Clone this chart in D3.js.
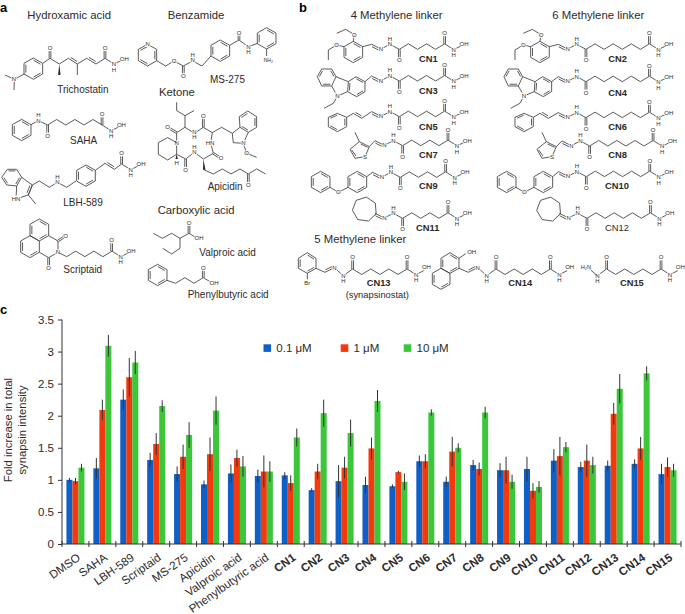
<!DOCTYPE html>
<html><head><meta charset="utf-8">
<script src="https://cdn.jsdelivr.net/npm/d3@7"></script>
<style>html,body{margin:0;padding:0;background:#fff}svg{display:block}text{font-family:"Liberation Sans",Arial,sans-serif;fill:#2b2b2b}</style>
</head><body><svg id="c" width="685" height="614"></svg>
<script>
const categories=["DMSO","SAHA","LBH-589","Scriptaid","MS-275","Apicidin","Valproic acid","Phenylbutyric acid","CN1","CN2","CN3","CN4","CN5","CN6","CN7","CN8","CN9","CN10","CN11","CN12","CN13","CN14","CN15"];
const seriesNames=["0.1 μM","1 μM","10 μM"];
const seriesColors=["#0f5fc6","#f23a0c","#3cc63a"];
const v01=[1.0,1.18,2.25,1.31,1.09,.93,1.10,1.06,1.07,.84,.98,.92,.90,1.29,.97,1.23,1.15,1.17,1.30,1.20,1.22,1.25,1.09];
const v1=[.98,2.09,2.60,1.56,1.36,1.40,1.34,1.13,.95,1.13,1.19,1.49,1.12,1.29,1.44,1.17,1.15,.83,1.37,1.30,2.03,1.49,1.20];
const v10=[1.19,3.09,2.83,2.15,1.70,2.08,1.21,1.13,1.66,2.04,1.73,2.23,.97,2.05,1.50,2.05,.97,.89,1.51,1.23,2.42,2.66,1.15];
const e01=[.03,.16,.16,.11,.12,.06,.14,.10,.05,.03,.25,.13,.03,.09,.08,.08,.11,.19,.18,.08,.08,.07,.16];
const e1=[.05,.16,.30,.17,.19,.26,.13,.25,.12,.12,.17,.17,.02,.11,.23,.10,.21,.12,.30,.25,.17,.18,.15];
const e10=[.06,.17,.18,.09,.20,.22,.16,.16,.14,.21,.21,.17,.13,.05,.07,.09,.11,.09,.08,.13,.23,.11,.10];
const yTicks=[0,.5,1,1.5,2,2.5,3,3.5];
const yLabelLines=["Fold increase in total","synapsin intensity"];
const svg=d3.select("#c");
const vals=[v01,v1,v10],errs=[e01,e1,e10];
const x=d3.scaleBand().domain(categories).range([62,681]).paddingInner(.33).paddingOuter(.165);
const sub=d3.scaleBand().domain([0,1,2]).range([0,x.bandwidth()]);
const y=d3.scaleLinear().domain([0,3.5]).range([544,319.5]);
const chart=svg.append("g");
vals.forEach((arr,s)=>{
  chart.append("g").selectAll("rect").data(arr).join("rect")
   .attr("x",(d,i)=>x(categories[i])+sub(s)).attr("width",sub.bandwidth())
   .attr("y",d=>y(d)).attr("height",d=>y(0)-y(d)).attr("fill",seriesColors[s]);
  chart.append("g").selectAll("line").data(arr).join("line")
   .attr("x1",(d,i)=>x(categories[i])+sub(s)+sub.bandwidth()/2).attr("x2",(d,i)=>x(categories[i])+sub(s)+sub.bandwidth()/2)
   .attr("y1",(d,i)=>y(d-errs[s][i])).attr("y2",(d,i)=>y(d+errs[s][i]))
   .attr("stroke","#333").attr("stroke-width",1);
});
const ya=chart.append("g").attr("transform","translate(62,0)").call(d3.axisLeft(y).tickValues(yTicks).tickSize(4).tickPadding(4).tickFormat(d=>String(d)));
ya.selectAll("text").attr("font-size",11.5);
ya.selectAll("path,line").attr("stroke","#333");
ya.select(".domain").attr("d","M-0,319.5V544");
const xa=chart.append("g").attr("transform","translate(0,544)").call(d3.axisBottom(x).tickSize(0).tickPadding(9));
xa.select(".domain").attr("d","M62,0H681").attr("stroke","#333");
xa.selectAll("text").attr("font-size",11.6).attr("text-anchor","end")
  .attr("font-weight",d=>d.startsWith("CN")?"bold":"normal");
xa.selectAll(".tick text").each(function(){const t=d3.select(this);const py=t.attr("y");t.attr("transform",`rotate(-35 0 ${py})`).attr("dx",1).attr("dy",8.5);});
const edges=d3.range(categories.length+1);
xa.append("g").selectAll("line").data(edges).join("line")
  .attr("x1",i=>62+i*x.step()).attr("x2",i=>62+i*x.step()).attr("y1",-3).attr("y2",3).attr("stroke","#333");
yLabelLines.forEach((t,i)=>svg.append("text").attr("transform",`translate(${12+i*13.5},430) rotate(-90)`).attr("text-anchor","middle").attr("font-size",11.3).text(t));
// legend
const legendX=[263.5,340.7,403.7];
seriesNames.forEach((n,i)=>{
 svg.append("rect").attr("x",legendX[i]).attr("y",344.3).attr("width",7.6).attr("height",7.6).attr("fill",seriesColors[i]);
 svg.append("text").attr("x",legendX[i]+12.8).attr("y",352).attr("font-size",11.5).text(n);
});
// panel letters
[["a",0,12],["b",299,12],["c",0,314]].forEach(([t,a,b])=>svg.append("text").attr("x",a).attr("y",b).attr("font-size",13).attr("font-weight","bold").style("fill","#000").text(t));

// ---- chemical structure drawing helpers (skeletal diagrams, 3x units) ----
function Draw(g){
 const sw=2.5,col="#3a3a3a";
 const line=d3.line();
 const api={
  p(...pts){g.append("path").attr("d",line(pts)).attr("fill","none").attr("stroke",col).attr("stroke-width",sw).attr("stroke-linejoin","round");return api;},
  d(a,b,cx,cy){
   api.p(a,b);
   const dx=b[0]-a[0],dy=b[1]-a[1],L=Math.hypot(dx,dy);let nx=-dy/L,ny=dx/L;
   const mx=(a[0]+b[0])/2,my=(a[1]+b[1])/2;
   if(nx*(cx-mx)+ny*(cy-my)<0){nx=-nx;ny=-ny;}
   const o=6,s=.14;
   api.p([a[0]+dx*s+nx*o,a[1]+dy*s+ny*o],[b[0]-dx*s+nx*o,b[1]-dy*s+ny*o]);return api;},
  o(c,o){
   const dx=o[0]-c[0],dy=o[1]-c[1],L=Math.hypot(dx,dy),nx=-dy/L*2.6,ny=dx/L*2.6,e=[c[0]+dx*.72,c[1]+dy*.72];
   api.p([c[0]+nx,c[1]+ny],[e[0]+nx,e[1]+ny]);api.p([c[0]-nx,c[1]-ny],[e[0]-nx,e[1]-ny]);
   api.a(o[0],o[1],"O");return api;},
  w(a,b){const dx=b[0]-a[0],dy=b[1]-a[1],L=Math.hypot(dx,dy),nx=-dy/L*3.6,ny=dx/L*3.6;
   g.append("path").attr("d",line([a,[b[0]+nx,b[1]+ny],[b[0]-nx,b[1]-ny]])+"Z").attr("fill","#222");return api;},
  a(x,y,t,fs=18){g.append("text").attr("x",x).attr("y",y).attr("text-anchor","middle").attr("dy","0.36em").attr("font-size",fs).attr("stroke","#fff").attr("stroke-width",5).attr("paint-order","stroke").text(t);return api;},
  t(x,y,t,fs=30,b=false){g.append("text").attr("x",x).attr("y",y).attr("font-size",fs).attr("font-weight",b?"bold":"normal").text(t);return api;},
  ring(pts,db=[0,2,4]){const c=[d3.mean(pts,q=>q[0]),d3.mean(pts,q=>q[1])];
   api.p(...pts,pts[0]);
   db.forEach(i=>{const a=pts[i],b=pts[(i+1)%pts.length],dx=b[0]-a[0],dy=b[1]-a[1];
     const k=.2;const A=[a[0]+(c[0]-a[0])*k+dx*.03,a[1]+(c[1]-a[1])*k+dy*.03],B=[b[0]+(c[0]-b[0])*k-dx*.03,b[1]+(c[1]-b[1])*k-dy*.03];api.p(A,B);});
   return api;},
  hex(cx,cy,db){return api.ring([[cx,cy-32],[cx+28,cy-16],[cx+28,cy+16],[cx,cy+32],[cx-28,cy+16],[cx-28,cy-16]],db);},
  hyd(c){
   const n=[c[0]+27,c[1]+17];api.o(c,[c[0],c[1]-32]);api.p(c,n);
   api.p(n,[c[0]+50,c[1]+6]);api.a(n[0],n[1],"N");api.a(n[0],n[1]+17,"H");api.a(c[0]+58,c[1]+1,"OH");return api;},
  chain(s,n,up=true,step=27.2,h=16.5){
   const pts=[s];let yy=s[1],dir=up?-1:1;for(let i=0;i<n;i++){yy+=dir*h;dir=-dir;pts.push([s[0]+(i+1)*step,yy]);}
   api.p(...pts);return pts[pts.length-1];},
  hz(x0,y0,n){
   const N=[x0+28,y0+14],NH=[x0+55,y0],C=[x0+83,y0+15];
   api.d([x0,y0],N,x0+28,y0+30);api.p(N,NH);api.p(NH,C);
   api.a(N[0],N[1],"N");api.a(NH[0],NH[1],"N");api.a(NH[0],NH[1]-17,"H");
   api.o(C,[C[0],C[1]+33]);
   const e=api.chain(C,n+1,true);api.hyd(e);return api;},
  hzUp(x0,y0,n,imine=true){
   const NH=[x0+55,y0+10],C=[x0+83,y0-10];
   if(imine){const N=[x0+28,y0-14];api.d([x0,y0],N,x0+28,y0-30);api.p(N,NH);api.a(N[0],N[1],"N");}
   api.p(NH,C);api.a(NH[0],NH[1],"N");api.a(NH[0],NH[1]+16,"H");
   api.o(C,[C[0],C[1]-36]);
   const e=api.chain(C,n+1,false);api.o(e,[e[0],e[1]-36]);
   const N2=[e[0]+27,e[1]+17];api.p(e,N2);api.p(N2,[e[0]+50,e[1]+5]);api.a(N2[0],N2[1],"N");api.a(N2[0],N2[1]+15,"H");api.a(e[0]+58,e[1]-5,"OH");return api;}
 };return api;}

// ---- panel a ----
const A=Draw(svg.append("g").attr("transform","scale(0.3333)"));
A.t(82,57,"Hydroxamic acid",34).t(503,57,"Benzamide",34).t(477,288,"Ketone",34).t(473,642,"Carboxylic acid",34);
A.t(172,278,"Trichostatin").t(630,250,"MS-275").t(210,431,"SAHA").t(190,617,"LBH-589").t(623,570,"Apicidin").t(598,767,"Valproic acid").t(190,820,"Scriptaid").t(563,893,"Phenylbutyric acid");
// Trichostatin
A.hex(100,206);
A.p([73,222],[43,238],[15,225]).p([43,238],[42,270]).a(42,238,"N");
A.p([128,190],[150,175],[178,192],[205,175]).o([150,175],[150,145]);A.w([178,192],[178,225]);
A.d([205,175],[232,192],225,170);A.p([232,192],[232,225]).p([232,192],[260,175]);A.d([260,175],[288,192],285,170);
A.p([288,192],[315,175]);A.hyd([315,175]);
// MS-275
A.ring([[443,133],[470,148],[470,182],[443,198],[415,182],[415,148]],[1,3,5]);A.a(443,133,"N");
A.p([470,182],[497,198],[522,183],[550,198],[578,183],[606,198],[633,168]);A.a(522,183,"O");A.o([550,198],[550,228]);A.a(578,180,"N").a(578,165,"H");
A.hex(661,152);A.p([689,136],[717,120]);A.o([717,120],[717,100]);A.p([717,120],[745,140],[773,130]);A.a(745,140,"N").a(745,157,"H");
A.hex(800,115);A.p([800,147],[800,168]);A.a(805,182,"NH₂",15);
// SAHA
A.hex(65,390);A.p([93,374],[115,362],[143,375]);A.a(115,362,"N").a(115,345,"H");A.o([143,375],[143,407]);
let e=A.chain([143,375],6,true);A.hyd(e);
// LBH
A.ring([[22,508],[50,508],[65,532],[50,558],[20,555],[5,532]],[0,2,4]);
A.p([65,532],[97,555],[85,585],[48,597],[50,558]);A.d([97,555],[85,585],72,565);A.a(48,597,"HN");A.p([85,585],[107,612]);
A.p([97,555],[118,543],[148,562],[172,547],[200,562],[228,543]);A.a(172,547,"N").a(172,530,"H");
A.hex(258,527);A.p([286,511],[315,490]);A.d([315,490],[343,508],340,488);A.p([343,508],[365,492]);A.hyd([365,492]);
// Scriptaid
A.ring([[118,657],[146,673],[146,707],[118,723],[90,707],[90,673]],[0,2,4]);
A.ring([[90,707],[118,723],[118,757],[90,773],[62,757],[62,723]],[2,4]);
A.p([146,707],[174,723],[174,757],[146,773],[118,757]);
A.o([174,723],[197,708]);A.o([146,773],[146,805]);A.a(174,757,"N");
A.p([180,760],[200,770]);e=A.chain([200,770],5,true);A.hyd([335,753]);
// Apicidin
const ax=(x,y)=>[435+x,285+y];
A.p(ax(95,22),ax(95,47),ax(120,62),ax(147,47)).p(ax(120,62),ax(120,97));
A.p(ax(120,97),ax(148,115),ax(175,97),ax(202,113),ax(197,143),ax(205,175),ax(175,192),ax(148,172),ax(122,192),ax(95,178),ax(95,143),ax(95,113),ax(120,97));
A.o(ax(175,97),ax(175,62));A.o(ax(205,175),ax(228,190));A.o(ax(122,192),ax(122,225));A.o(ax(95,113),ax(68,97));
A.a(...ax(148,112),"N").a(...ax(148,127),"H").a(...ax(195,143),"HN").a(...ax(148,170),"N").a(...ax(148,155),"H").a(...ax(95,143),"N");
A.p(ax(95,143),ax(68,128),ax(40,143),ax(40,178),ax(68,195),ax(95,178));A.w(ax(95,178),ax(95,192));A.a(...ax(95,205),"H");
A.p(ax(202,113),ax(230,97),ax(262,115));
A.ring([ax(285,97),ax(283,65),ax(308,48),ax(335,65),ax(335,97),ax(310,112)],[1,3,5]);
A.p(ax(285,97),ax(262,115),ax(265,143),ax(295,145),ax(310,112));A.p(ax(295,145),ax(305,175),ax(335,187));A.a(...ax(295,145),"N").a(...ax(305,175),"O");
A.w(ax(175,192),ax(178,225));
A.p(ax(178,225),ax(205,237),ax(232,222),ax(258,237),ax(285,222),ax(310,237),ax(335,222),ax(362,237));A.o(ax(310,237),ax(310,270));
// Valproic
A.p([460,700],[487,715],[515,700],[540,715],[567,700]).p([540,715],[540,745],[515,762],[488,745]);A.o([567,700],[567,668]);A.p([567,700],[585,711]);A.a(597,715,"OH");
// Phenylbutyric
A.hex(473,825);A.p([501,841],[527,850],[555,833],[582,850],[610,833],[630,845]);A.o([610,833],[610,803]);A.a(642,850,"OH");

// ---- panel b ----
const Bb=Draw(svg.append("g").attr("transform","translate(300,0) scale(0.3333)"));
Bb.t(152,57,"4 Methylene linker",34).t(757,57,"6 Methylene linker",34).t(43,730,"5 Methylene linker",34);
[["CN1",357,186],["CN2",925,186],["CN3",357,283],["CN4",925,288],["CN5",357,391],["CN6",925,391],["CN7",357,474],["CN8",925,474],["CN9",357,568],["CN10",915,568],["CN11",348,692],["CN13",200,857],["CN14",625,857],["CN15",960,857]].forEach(r=>Bb.t(r[1],r[2],r[0],28,true));
Bb.t(915,692,"CN12",28).t(137,893,"(synapsinostat)",28);
const sh=558;
[[0,133,4],[sh+2,133,6]].forEach(([d,y0,n])=>{
 Bb.hex(160+d,156);
 Bb.p([160+d,124],[163+d,104],[137+d,88],[110+d,100]).a(163+d,104,"O");
 Bb.p([132+d,140],[110+d,135],[85+d,150],[85+d,180]).a(110+d,135,"O");
 Bb.p([188+d,140],[215+d,y0]);Bb.hz(215+d,y0,n);});
[[0,228,4],[sh+2,230,6]].forEach(([d,y0,n])=>{ const o=180;
 Bb.ring([[52+d,50+o],[65+d,27+o],[95+d,27+o],[108+d,50+o],[95+d,78+o],[65+d,78+o]],[0,2,4]);
 Bb.ring([[145+d,65+o],[168+d,50+o],[195+d,65+o],[195+d,95+o],[170+d,110+o],[143+d,95+o]],[1,3,5]);
 Bb.p([108+d,50+o],[145+d,65+o]).p([143+d,95+o],[112+d,108+o],[95+d,78+o]).p([112+d,108+o],[100+d,130+o],[72+d,145+o]);Bb.a(112+d,108+o,"N");
 Bb.p([195+d,65+o],[215+d,y0]);Bb.hz(215+d,y0,n);});
[[0,335,4],[sh+2,338,6]].forEach(([d,y0,n])=>{
 Bb.ring([[85+d,352],[112+d,340],[140+d,352],[140+d,380],[112+d,395],[85+d,380]],[0,2,4]);
 Bb.p([140+d,352],[160+d,340]);Bb.d([160+d,340],[185+d,355],185+d,338);Bb.p([185+d,355],[215+d,y0]);Bb.hz(215+d,y0,n);});
[[0,422,4],[sh+3,423,6]].forEach(([d,y0,n])=>{
 Bb.p([178+d,425],[150+d,448],[165+d,475],[195+d,470],[208+d,440],[178+d,425]);Bb.p([155+d,450],[168+d,468]);Bb.p([182+d,432],[203+d,442]);Bb.a(195+d,470,"S");
 Bb.p([178+d,425],[165+d,397]).p([208+d,440],[225+d,y0]);Bb.hz(225+d,y0,n);});
[[0,517,4],[sh,515,6]].forEach(([d,y0,n])=>{
 Bb.hex(62+d,546);Bb.hex(172+d,546);
 Bb.p([90+d,562],[115+d,577],[144+d,562]).a(115+d,577,"O");
 Bb.p([200+d,530],[218+d,y0]);Bb.hz(218+d,y0,n);});
[[0,640,4],[sh,640,6]].forEach(([d,y0,n])=>{
 const cx=(d?747:194),cy=628,x0=(d?778:225),r=37;
 const a0=Math.atan2(y0-cy,x0-cx);
 const pts=d3.range(7).map(i=>[cx+r*Math.cos(a0+i*2*Math.PI/7),cy+r*Math.sin(a0+i*2*Math.PI/7)]);
 Bb.p(...pts,pts[0]);Bb.hz(x0,y0,n);});
// CN13
Bb.ring([[22,758],[48,775],[48,805],[22,820],[-5,805],[-5,775]],[0,2,4]);Bb.p([22,820],[22,838]);Bb.a(22,850,"Br");Bb.p([48,805],[75,817]);Bb.hzUp(75,817,5);
// CN14
Bb.ring([[450,758],[477,775],[477,805],[450,820],[423,805],[423,775]],[0,2,4]);
Bb.ring([[423,805],[450,820],[450,853],[423,868],[397,853],[397,820]],[2,4]);
Bb.p([477,775],[497,761]);Bb.a(515,755,"OH");Bb.p([477,805],[505,817]);Bb.hzUp(505,817,5);
// CN15
Bb.a(858,802,"H₂N",17);Bb.hzUp(837,817,5,false);Bb.p([872,810],[892,827]);
</script></body></html>
